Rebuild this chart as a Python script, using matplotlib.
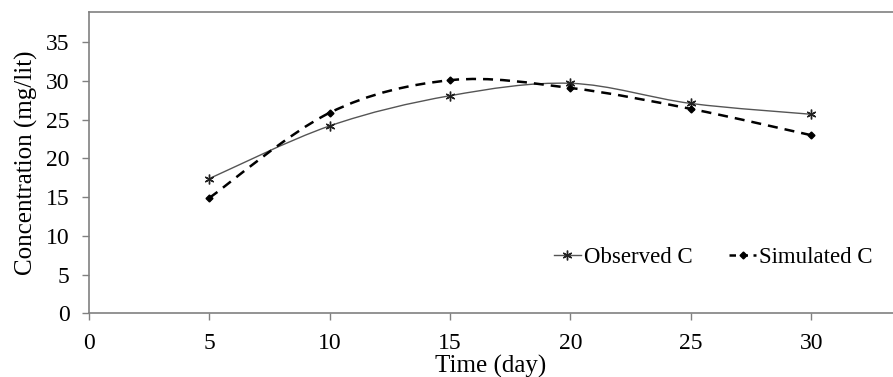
import numpy as np
import matplotlib
matplotlib.use("Agg")
import matplotlib.pyplot as plt
from matplotlib.path import Path
from matplotlib.patches import PathPatch
from matplotlib.lines import Line2D

plt.rcParams['font.family'] = ['Liberation Serif', 'DejaVu Serif']

# Data
days = [5, 10, 15, 20, 25, 30]
observed = [17.4, 24.2, 28.1, 29.7, 27.1, 25.7]
simulated = [14.9, 25.9, 30.1, 29.1, 26.4, 23.0]
x_ticks = [0, 5, 10, 15, 20, 25, 30]
y_ticks = [0, 5, 10, 15, 20, 25, 30, 35]


def smooth_path(xs, ys):
    # Excel-style smoothed line: cubic Bezier through the points (Catmull-Rom tangents)
    p = np.column_stack([xs, ys]).astype(float)
    ext = np.vstack([p[0], p, p[-1]])
    verts = [p[0]]
    codes = [Path.MOVETO]
    for i in range(1, len(ext) - 2):
        p0, p1, p2, p3 = ext[i - 1], ext[i], ext[i + 1], ext[i + 2]
        c1 = p1 + (p2 - p0) / 6.0
        c2 = p2 - (p3 - p1) / 6.0
        verts += [c1, c2, p2]
        codes += [Path.CURVE4] * 3
    return Path(verts, codes)


fig = plt.figure(figsize=(8.93, 3.77), dpi=100)
ax = fig.add_axes([0.0997, 0.169, 0.9003, 0.799])

obs_color = '#555555'
ax.add_patch(PathPatch(smooth_path(days, observed), fill=False,
                       edgecolor=obs_color, lw=1.0))
ax.plot(days, observed, linestyle='none', marker=(6, 2, 0), markersize=7,
        markeredgecolor='#222222', markeredgewidth=1.0)

ax.add_patch(PathPatch(smooth_path(days, simulated), fill=False,
                       edgecolor='black', lw=1.8, linestyle=(0, (4, 2.8))))
ax.plot(days, simulated, linestyle='none', marker='D', markersize=3.5,
        color='black')

ax.set_xlim(0, 33.4)
ax.set_ylim(0, 38.9)
ax.set_xticks(x_ticks)
ax.set_yticks(y_ticks)
ax.tick_params(labelsize=17, color='#808080', length=5, width=1)
ax.tick_params(axis='x', pad=9)
ax.tick_params(axis='y', pad=9)
for side in ['left', 'bottom', 'top']:
    ax.spines[side].set_color('#808080')
    ax.spines[side].set_linewidth(1.2)
ax.spines['right'].set_visible(False)

ax.set_xlabel('Time (day)', fontsize=18, labelpad=1)
ax.set_ylabel('Concentration (mg/lit)', fontsize=18, labelpad=6)

handles = [
    Line2D([], [], color=obs_color, lw=1.0, marker=(6, 2, 0), markersize=7,
           markeredgecolor='#222222'),
    Line2D([], [], color='black', lw=1.8, linestyle=(0, (2.6, 2.2)), marker='D',
           markersize=3.5),
]
ax.legend(handles, ['Observed C', 'Simulated C'], ncol=2, frameon=False,
          fontsize=16.5, loc='center', bbox_to_anchor=(0.776, 0.184),
          handlelength=1.2, handletextpad=0.1, columnspacing=1.6,
          borderpad=0, borderaxespad=0)

fig.savefig('out.png', dpi=100)
